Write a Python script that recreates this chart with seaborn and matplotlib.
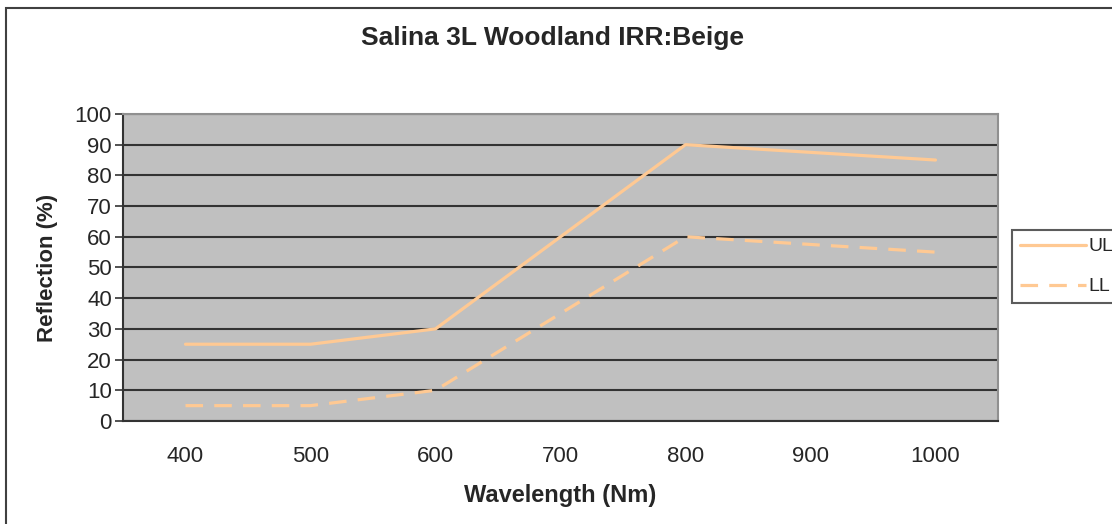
import numpy as np
import pandas as pd
from matplotlib import pyplot as plt
import matplotlib.patches as mpatches
import seaborn as sns

wavelengths = ["400", "500", "600", "700", "800", "900", "1000"]
ul_values = [25, 25, 30, 60, 90, 87.5, 85]
ll_values = [5, 5, 10, 35, 60, 57.5, 55]
series_names = ["UL", "LL"]

df = pd.DataFrame({
    "Wavelength": wavelengths * 2,
    "Reflection": ul_values + ll_values,
    "Series": [series_names[0]] * len(wavelengths) + [series_names[1]] * len(wavelengths),
})

sns.set_style("white")
plt.rcParams["font.family"] = ["Liberation Sans", "DejaVu Sans"]

peach = "#FFC993"
dash = (5.5, 3.5)
fig = plt.figure(figsize=(11.12, 5.24), dpi=100)
ax = fig.add_axes([0.1106, 0.1966, 0.7869, 0.5859])
ax.set_facecolor("#C0C0C0")

# outer chart frame
fig.patches.append(mpatches.Rectangle((6 / 1112, -0.1), 1.2, 1 - 8 / 524 + 0.1,
                                      transform=fig.transFigure, fill=False,
                                      edgecolor="#404040", linewidth=1.5))

sns.lineplot(data=df, x="Wavelength", y="Reflection", style="Series",
             color=peach, linewidth=2.3, dashes={"UL": "", "LL": dash},
             sort=False, ax=ax, legend=False)

ax.set_xlim(-0.5, len(wavelengths) - 0.5)
ax.set_ylim(0, 100)
ax.set_yticks(np.arange(0, 101, 10))
ax.grid(axis="y", color="#333333", linewidth=1.5)
ax.set_axisbelow(True)

ax.set_xticks(range(len(wavelengths)))
ax.set_xticklabels(wavelengths)
ax.set_xticks(np.arange(-0.5, len(wavelengths)), minor=True)
ax.tick_params(axis="x", which="major", length=0, pad=18, labelsize=16)
ax.tick_params(axis="x", which="minor", length=6, width=1.2, color="#333333", direction="out")
ax.tick_params(axis="y", length=6, width=1.2, color="#333333", direction="out", labelsize=16, pad=2)
ax.tick_params(bottom=True, left=True)

for side in ["top", "right"]:
    ax.spines[side].set_color("#909090")
    ax.spines[side].set_linewidth(1.5)
for side in ["left", "bottom"]:
    ax.spines[side].set_color("#333333")
    ax.spines[side].set_linewidth(1.5)

ax.set_xlabel("Wavelength (Nm)", fontsize=17, fontweight="bold", labelpad=12)
ax.set_ylabel("Reflection (%)", fontsize=16, fontweight="bold", labelpad=12)
fig.text(0.497, 0.927, "Salina 3L Woodland IRR:Beige", ha="center", va="center",
         fontsize=19, fontweight="bold")

handles = [plt.Line2D([], [], color=peach, linewidth=2.3),
           plt.Line2D([], [], color=peach, linewidth=2.3, dashes=dash)]
leg = fig.legend(handles, series_names, loc="upper left",
                 bbox_to_anchor=(1012 / 1112, 1 - 230 / 524), borderaxespad=0,
                 frameon=True, fancybox=False, edgecolor="#333333", fontsize=14,
                 handlelength=3.4, labelspacing=1.15, borderpad=0.4, handletextpad=0.15)
leg.get_frame().set_linewidth(1.5)

plt.savefig("out.png", dpi=100)
